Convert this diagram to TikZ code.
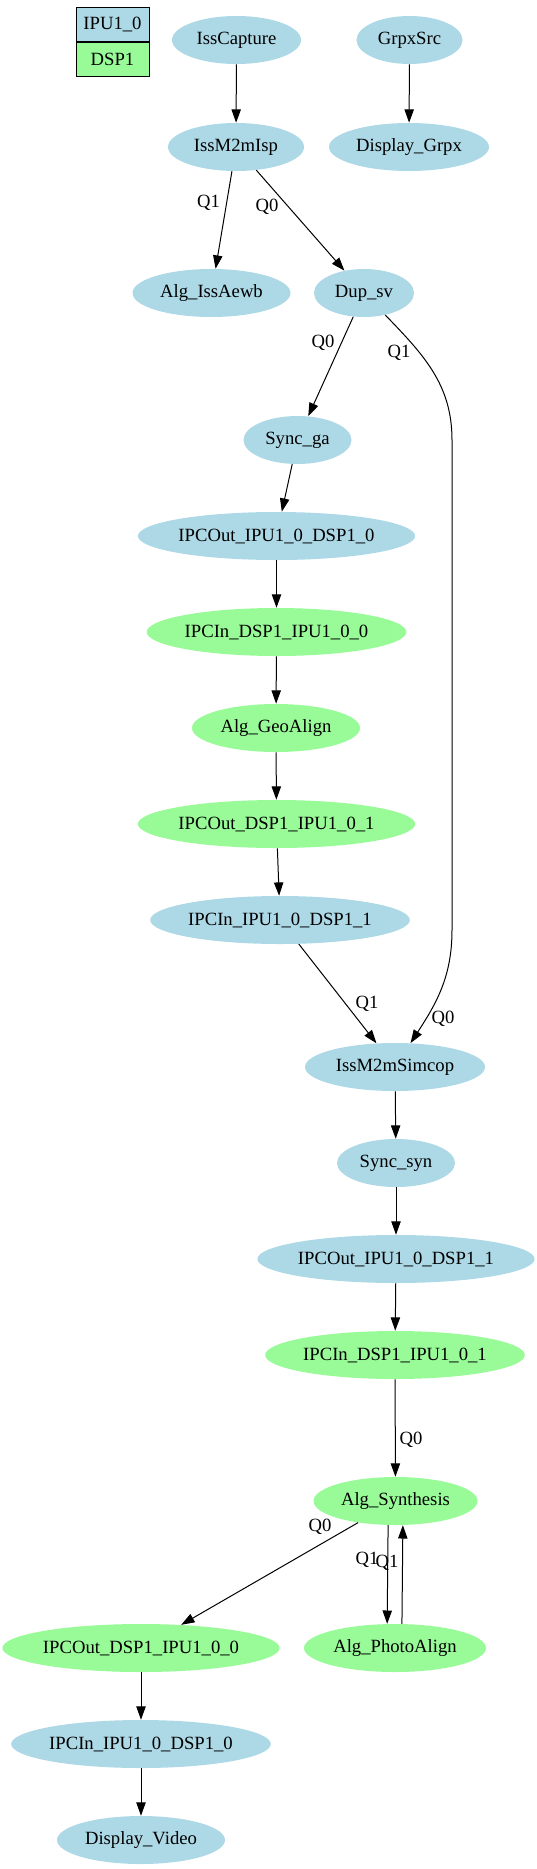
\documentclass[tikz,border=0pt]{standalone}
\usepackage{fontspec}
\setmainfont{Liberation Serif}
\usetikzlibrary{shapes.geometric,arrows.meta,positioning}

\definecolor{ipublue}{RGB}{173,216,230}
\definecolor{dspgreen}{RGB}{152,251,152}

\begin{document}
\begin{tikzpicture}[
  x = 0.75bp, y = -0.75bp,
  font = \fontsize{14bp}{16bp}\selectfont,
  task/.style = {ellipse, inner sep = 0pt, minimum height = 36bp},
  ipu/.style = {task, fill = ipublue, minimum width = #1*1.5bp},
  dsp/.style = {task, fill = dspgreen, minimum width = #1*1.5bp},
  legend/.style = {rectangle, draw, line width = 0.75bp, inner sep = 0pt,
    minimum width = 54.75bp, minimum height = 25.5bp},
  link/.style = {-{Triangle[length = 10bp, width = 7bp]}, line width = 0.75bp},
  qlabel/.style = {inner sep = 0pt}
  ]
  \useasboundingbox (0,0) rectangle (536,1869);

  \node [legend, fill = ipublue] (lgipu) at (112.5,24.3) {IPU1\_0};
  \node [legend, fill = dspgreen, below = 0pt of lgipu] (lgdsp) {DSP1};

  \node [ipu=64.5] (isscapture)   at (236.5,40)  {IssCapture};
  \node [ipu=53]   (grpxsrc)      at (409.5,40)  {GrpxSrc};
  \node [ipu=68]   (issm2misp)    at (236,147)   {IssM2mIsp};
  \node [ipu=80]   (displaygrpx)  at (409,147)   {Display\_Grpx};
  \node [ipu=79]   (algissaewb)   at (211.5,293) {Alg\_IssAewb};
  \node [ipu=50]   (dupsv)        at (364,293)   {Dup\_sv};
  \node [ipu=54]   (syncga)       at (297.5,440) {Sync\_ga};
  \node [ipu=136]  (ipcout0)      at (276.5,536) {IPCOut\_IPU1\_0\_DSP1\_0};
  \node [dsp=129]  (ipcindsp0)    at (276.5,632) {IPCIn\_DSP1\_IPU1\_0\_0};
  \node [dsp=84]   (geoalign)     at (276,728)   {Alg\_GeoAlign};
  \node [dsp=136]  (ipcoutdsp1)   at (276.5,824) {IPCOut\_DSP1\_IPU1\_0\_1};
  \node [ipu=128]  (ipcin1)       at (280,920)   {IPCIn\_IPU1\_0\_DSP1\_1};
  \node [ipu=90]   (simcop)       at (395,1067)  {IssM2mSimcop};
  \node [ipu=59]   (syncsyn)      at (396,1163)  {Sync\_syn};
  \node [ipu=136]  (ipcout1)      at (396,1259)  {IPCOut\_IPU1\_0\_DSP1\_1};
  \node [dsp=128]  (ipcindsp1)    at (395,1355)  {IPCIn\_DSP1\_IPU1\_0\_1};
  \node [dsp=82]   (synthesis)    at (395.5,1501) {Alg\_Synthesis};
  \node [dsp=136]  (ipcoutdsp0)   at (141,1648)  {IPCOut\_DSP1\_IPU1\_0\_0};
  \node [dsp=91]   (photoalign)   at (395,1648)  {Alg\_PhotoAlign};
  \node [ipu=128]  (ipcin0)       at (141,1744)  {IPCIn\_IPU1\_0\_DSP1\_0};
  \node [ipu=84]   (displayvideo) at (141,1840)  {Display\_Video};

  \coordinate (q1top) at (452,440);
  \coordinate (q1bot) at (452,930);

  \draw [link] (isscapture) -- (issm2misp);
  \draw [link] (grpxsrc) -- (displaygrpx);
  \draw [link] (issm2misp) -- (algissaewb);
  \draw [link] (issm2misp) -- (dupsv);
  \draw [link] (dupsv) -- (syncga);
  \draw [link] (dupsv) to [out=-46, in=90] (q1top) -- (q1bot)
    to [out=-90, in=57] (simcop);
  \draw [link] (syncga) -- (ipcout0);
  \draw [link] (ipcout0) -- (ipcindsp0);
  \draw [link] (ipcindsp0) -- (geoalign);
  \draw [link] (geoalign) -- (ipcoutdsp1);
  \draw [link] (ipcoutdsp1) -- (ipcin1);
  \draw [link] (ipcin1) -- (simcop);
  \draw [link] (simcop) -- (syncsyn);
  \draw [link] (syncsyn) -- (ipcout1);
  \draw [link] (ipcout1) -- (ipcindsp1);
  \draw [link] (ipcindsp1) -- (synthesis);
  \draw [link] (synthesis) -- (ipcoutdsp0);
  \draw [link] (synthesis.-107) -- (photoalign.108);
  \draw [link] (photoalign.74) -- (synthesis.-73);
  \draw [link] (ipcoutdsp0) -- (ipcin0);
  \draw [link] (ipcin0) -- (displayvideo);

  \node [qlabel] (q-isp-aewb)   at (208.5,203) {Q1};
  \node [qlabel] (q-isp-dup)    at (267,207)   {Q0};
  \node [qlabel] (q-dup-sync)   at (323,343)   {Q0};
  \node [qlabel] (q-dup-simcop) at (399,353)   {Q1};
  \node [qlabel] (q-in-simcop)  at (367,1004)  {Q1};
  \node [qlabel] (q-simcop-in)  at (443,1019)  {Q0};
  \node [qlabel] (q-synth-in)   at (411,1440)  {Q0};
  \node [qlabel] (q-synth-out)  at (320,1527)  {Q0};
  \node [qlabel] (q-photo-out)  at (367,1560)  {Q1};
  \node [qlabel] (q-photo-in)   at (387,1563)  {Q1};
\end{tikzpicture}
\end{document}
